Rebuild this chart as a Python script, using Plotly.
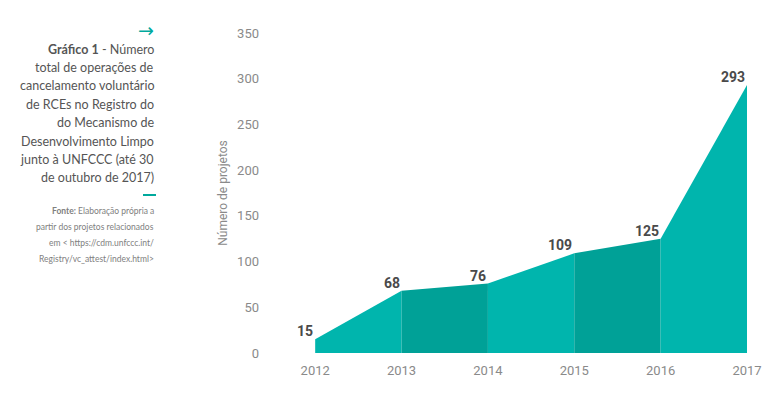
import plotly.graph_objects as go

years = [2012, 2013, 2014, 2015, 2016, 2017]
values = [15, 68, 76, 109, 125, 293]
year_labels = ["2012", "2013", "2014", "2015", "2016", "2017"]
y_ticks = [0, 50, 100, 150, 200, 250, 300, 350]

light = "#00B5AD"
dark = "#00A197"

fig = go.Figure()
for i in range(len(years) - 1):
    col = light if i % 2 == 0 else dark
    fig.add_trace(go.Scatter(
        x=[years[i], years[i + 1]], y=[values[i], values[i + 1]],
        mode="lines", fill="tozeroy", fillcolor=col,
        line=dict(color=col, width=0), showlegend=False, hoverinfo="skip"))

for x, v in zip(years, values):
    fig.add_annotation(x=x, y=v, text="<b>%d</b>" % v, showarrow=False,
                       xanchor="right", yanchor="bottom", xshift=0, yshift=-2,
                       font=dict(family="Roboto, sans-serif", size=14, color="#4a4a4a"))

FONT = "Roboto, Liberation Sans, sans-serif"
CAPFONT = "Lato, Roboto, sans-serif"
cap_lines = [
    "<b>Gráfico 1</b> - Número",
    "total de operações de",
    "cancelamento voluntário",
    "de RCEs no Registro do",
    "do Mecanismo de",
    "Desenvolvimento Limpo",
    "junto à UNFCCC (até 30",
    "de outubro de 2017)",
]
# page body has an 8px default margin; work in window pixel coordinates
OFF = 8
W, H = 773 - OFF, 409 - OFF
ML, MR, MT, MB = 272 - OFF, 26, 33 - OFF, 56

def px(xp):
    return (xp - OFF - ML) / (W - ML - MR)

def py(yp):
    return 1 - (yp - OFF - MT) / (H - MT - MB)

fig.add_annotation(xref="paper", yref="paper", x=px(156), y=py(30), text="→",
                   showarrow=False, xanchor="right", yanchor="middle",
                   font=dict(family="DejaVu Sans, sans-serif", size=19, color="#00A99D"))
for k, line in enumerate(cap_lines):
    fig.add_annotation(xref="paper", yref="paper", x=px(156), y=py(49 + k * 18.4),
                       text=line, showarrow=False, xanchor="right", yanchor="middle",
                       font=dict(family=CAPFONT, size=12.5, color="#555555"))
fig.add_shape(type="line", xref="paper", yref="paper", x0=px(143), x1=px(156),
              y0=py(195), y1=py(195), line=dict(color="#00A99D", width=2))
src_lines = [
    "<b>Fonte:</b> Elaboração própria a",
    "partir dos projetos relacionados",
    "em &lt; https://cdm.unfccc.int/",
    "Registry/vc_attest/index.html&gt;",
]
for k, line in enumerate(src_lines):
    fig.add_annotation(xref="paper", yref="paper", x=px(156), y=py(211 + k * 16),
                       text=line, showarrow=False, xanchor="right", yanchor="middle",
                       font=dict(family=CAPFONT, size=8.5, color="#808080"))

fig.update_layout(
    width=W, height=H, margin=dict(l=ML, r=MR, t=MT, b=MB),
    plot_bgcolor="white", paper_bgcolor="white",
    xaxis=dict(range=[2011.5, 2017], tickvals=years, ticktext=year_labels,
               showgrid=False, zeroline=False, showline=False, ticks="",
               ticklabelstandoff=8,
               tickfont=dict(family=FONT, size=13, color="#8a8a8a")),
    yaxis=dict(range=[0, 350], tickvals=y_ticks, showgrid=False, zeroline=False,
               showline=False, ticks="", ticklabelstandoff=12,
               tickfont=dict(family=FONT, size=13, color="#8a8a8a"),
               title=dict(text="Número de projetos", standoff=6,
                          font=dict(family=FONT, size=12, color="#8a8a8a"))),
)
fig.write_html("out.html")
